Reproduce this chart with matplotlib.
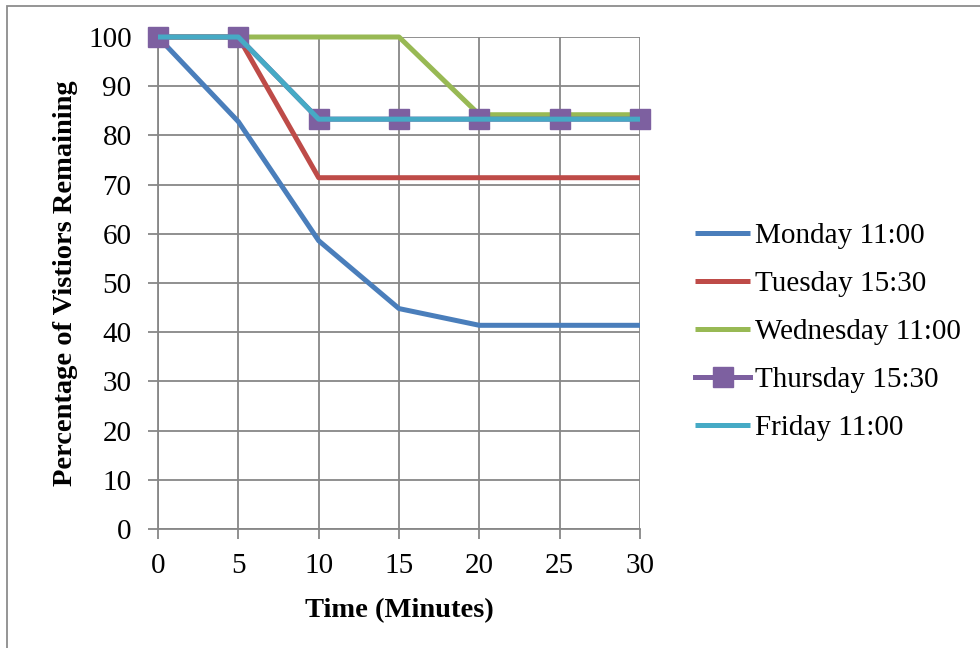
import matplotlib.pyplot as plt
from matplotlib.patches import Rectangle

minutes = [0, 5, 10, 15, 20, 25, 30]

monday = [100, 82.8, 58.6, 44.8, 41.4, 41.4, 41.4]
tuesday = [100, 100, 71.4, 71.4, 71.4, 71.4, 71.4]
wednesday = [100, 100, 100, 100, 84.2, 84.2, 84.2]
thursday = [100, 100, 83.3, 83.3, 83.3, 83.3, 83.3]
friday = [100, 100, 83.3, 83.3, 83.3, 83.3, 83.3]

labels = ['Monday 11:00', 'Tuesday 15:30', 'Wednesday 11:00', 'Thursday 15:30', 'Friday 11:00']
colors = ['#4a7ebb', '#be4b48', '#98b954', '#7d60a0', '#46aac5']

plt.rcParams['font.family'] = ['Liberation Serif', 'DejaVu Serif']

fig = plt.figure(figsize=(9.8, 6.48), dpi=100)
ax = fig.add_axes([158 / 980, 1 - 529 / 648, 482 / 980, 492 / 648])

# frame around the whole chart
fig.patches.append(Rectangle((7 / 980, -0.05), 1.0, 1 - 6 / 648 + 0.05,
                             transform=fig.transFigure, fill=False,
                             edgecolor='#8c8c8c', linewidth=1.3))

series = [monday, tuesday, wednesday, thursday, friday]
for vals, lab, col in zip(series, labels, colors):
    if lab.startswith('Thursday'):
        ax.plot(minutes, vals, color=col, linewidth=3.6, marker='s', markersize=14,
                label=lab, clip_on=False, zorder=3)
    else:
        ax.plot(minutes, vals, color=col, linewidth=3.6, label=lab,
                solid_capstyle='butt', clip_on=False, zorder=4 if lab.startswith('Friday') else 3)

ax.set_xlim(0, 30)
ax.set_ylim(0, 100)
ax.set_xticks(minutes)
ax.set_yticks(range(0, 101, 10))
ax.grid(True, color='#878787', linewidth=1.3)
ax.set_axisbelow(True)

for side in ['top', 'right']:
    ax.spines[side].set_visible(False)
for side in ['left', 'bottom']:
    ax.spines[side].set_color('#878787')
    ax.spines[side].set_linewidth(1.3)

ax.tick_params(axis='both', colors='#878787', labelcolor='black', labelsize=21,
               length=7, width=1.3)
ax.tick_params(axis='x', pad=10)
ax.tick_params(axis='y', pad=12)

ax.set_xlabel('Time (Minutes)', fontsize=20.5, fontweight='bold', labelpad=14)
ax.set_ylabel('Percentage of Vistiors Remaining', fontsize=20.5, fontweight='bold', labelpad=7)

ax.legend(loc='center left', bbox_to_anchor=(1.114, 0.40), frameon=False, fontsize=21,
          handlelength=1.9, handletextpad=0.15, labelspacing=0.74, borderaxespad=0,
          borderpad=0)

fig.savefig('out.png', dpi=100)
